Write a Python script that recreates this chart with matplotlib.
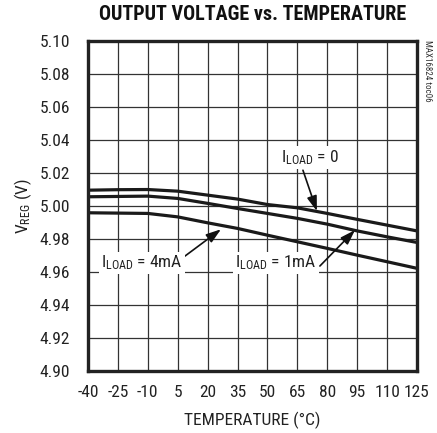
import numpy as np
import matplotlib
matplotlib.use('Agg')
import matplotlib.pyplot as plt
from matplotlib import font_manager

# temperature points (deg C) and read-off output voltages (V)
temp = [-40, -25, -10, 5, 20, 35, 50, 65, 80, 95, 110, 125]
v_0ma = [5.0095, 5.0098, 5.0099, 5.0089, 5.0065, 5.0041, 5.0008, 4.9988, 4.9954, 4.9918, 4.9883, 4.9848]
v_1ma = [5.0055, 5.0057, 5.0059, 5.0045, 5.0015, 4.9984, 4.9954, 4.9924, 4.9889, 4.9848, 4.9812, 4.9778]
v_4ma = [4.9958, 4.9956, 4.9954, 4.9933, 4.9897, 4.9863, 4.9822, 4.9782, 4.9742, 4.9701, 4.9661, 4.9621]

xticks = [-40, -25, -10, 5, 20, 35, 50, 65, 80, 95, 110, 125]
yticks = [4.90, 4.92, 4.94, 4.96, 4.98, 5.00, 5.02, 5.04, 5.06, 5.08, 5.10]

# look for a narrow face, otherwise shrink the regular one
names = set(f.name for f in font_manager.fontManager.ttflist)
narrow = None
for cand in ['Liberation Sans Narrow', 'DejaVu Sans Condensed', 'Roboto Condensed',
             'Open Sans Condensed', 'Arial Narrow']:
    if cand in names:
        narrow = cand
        break
if narrow:
    plt.rcParams['font.family'] = [narrow, 'DejaVu Sans']
    fs = 12.5
    fs_title = 14.5
else:
    plt.rcParams['font.family'] = ['Liberation Sans', 'DejaVu Sans']
    fs = 10.8
    fs_title = 12.2
plt.rcParams['mathtext.default'] = 'regular'

fig = plt.figure(figsize=(4.37, 4.33), dpi=100)
ax = fig.add_axes([0.2014, 0.1439, 0.7528, 0.7614])

ax.plot(temp, v_0ma, color='#1a1a1a', lw=2.3, solid_capstyle='butt')
ax.plot(temp, v_1ma, color='#1a1a1a', lw=2.3, solid_capstyle='butt')
ax.plot(temp, v_4ma, color='#1a1a1a', lw=2.3, solid_capstyle='butt')

ax.set_xlim(-40, 125)
ax.set_ylim(4.90, 5.10)
ax.set_xticks(xticks)
ax.set_yticks(yticks)
ax.set_xticklabels([str(t) for t in xticks])
ax.set_yticklabels(['%.2f' % v for v in yticks])
ax.tick_params(length=0, labelsize=fs, colors='#222222')
ax.tick_params(axis='x', pad=10)
ax.tick_params(axis='y', pad=13)
ax.grid(True, color='#333333', lw=0.9)
ax.set_axisbelow(True)
for s in ax.spines.values():
    s.set_linewidth(2.4)
    s.set_color('#222222')

ax.set_xlabel('TEMPERATURE (°C)', fontsize=fs, color='#222222', labelpad=9)
ax.set_ylabel('V$_{REG}$ (V)', fontsize=fs, color='#222222', labelpad=4)
fig.text(0.578, 0.966, 'OUTPUT VOLTAGE vs. TEMPERATURE', ha='center', va='center',
         fontsize=fs_title, fontweight='heavy', color='#111111')
fig.text(0.978, 0.908, 'MAX16824 toc06', rotation=270, ha='center', va='top',
         fontsize=6.5, color='#333333')

box = dict(boxstyle='square,pad=0.12', fc='white', ec='none')
arrow = dict(arrowstyle='-|>,head_length=0.9,head_width=0.3', color='#111111', lw=1.2,
             shrinkA=0, shrinkB=0)
ax.annotate('', xy=(74.8, 4.9968), xytext=(67.8, 5.0216), arrowprops=arrow)
ax.annotate('', xy=(26.7, 4.9858), xytext=(8.6, 4.9695), arrowprops=arrow)
ax.annotate('', xy=(93.9, 4.9853), xytext=(76.3, 4.9635), arrowprops=arrow)
ax.text(71.3, 5.0295, 'I$_{LOAD}$ = 0', ha='center', va='center', fontsize=fs,
        color='#222222', bbox=box)
ax.text(-12.9, 4.9653, 'I$_{LOAD}$ = 4mA', ha='center', va='center', fontsize=fs,
        color='#222222', bbox=box)
ax.text(54.3, 4.9653, 'I$_{LOAD}$ = 1mA', ha='center', va='center', fontsize=fs,
        color='#222222', bbox=box)

fig.savefig('out.png', dpi=100)
